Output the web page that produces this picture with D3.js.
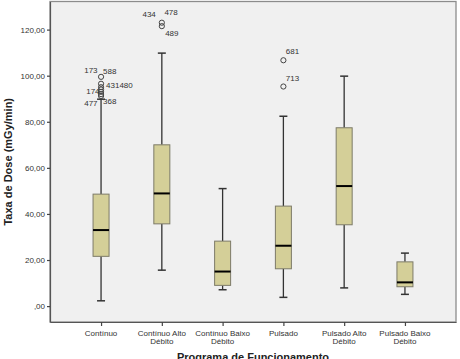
<!DOCTYPE html>
<html><head><meta charset="utf-8">
<script src="https://cdn.jsdelivr.net/npm/d3@7"></script>
<style>html,body{margin:0;padding:0;background:#fff;}svg{display:block;font-family:"Liberation Sans",Arial,sans-serif;}</style>
</head><body>
<svg id="c" width="460" height="359"></svg>
<script>
// ---- data ----
const categories = ["Contínuo","Contínuo Alto Débito","Contínuo Baixo Débito","Pulsado","Pulsado Alto Débito","Pulsado Baixo Débito"];
const categoryLines = [["Contínuo"],["Contínuo Alto","Débito"],["Contínuo Baixo","Débito"],["Pulsado"],["Pulsado Alto","Débito"],["Pulsado Baixo","Débito"]];
const whiskerLow  = [2.3, 15.6, 7.1, 3.8, 7.9, 5.1];
const q1          = [21.6, 35.7, 9.0, 16.2, 35.3, 8.4];
const median      = [33.0, 48.9, 15.0, 26.2, 52.1, 10.3];
const q3          = [48.6, 70.0, 28.2, 43.4, 77.4, 19.2];
const whiskerHigh = [89.8, 109.8, 51.0, 82.4, 99.8, 23.0];
const outlierCat   = [0, 0, 0, 0, 0, 0, 0, 1, 1, 3, 3];
const outlierValue = [99.5, 96.5, 95.0, 94.0, 93.0, 92.0, 91.2, 123.0, 121.5, 106.7, 95.3];
const labelText  = ["173","588","431480","174","477","368","434","478","489","681","713"];
const labelOf    = [0, 0, 1, 4, 6, 6, 7, 7, 8, 9, 10]; // index of outlier each label belongs to
const yTicks = [0, 20, 40, 60, 80, 100, 120];
const yTitle = "Taxa de Dose (mGy/min)";
const xTitle = "Programa de Funcionamento";

// ---- layout ----
const L = 50, R = 456, T = 1.5, B = 322;
const svg = d3.select("#c");
const x = d3.scalePoint().domain(categories).range([L, R]).padding(0.84);
const y = d3.scaleLinear().domain([-6.9, 132.2]).range([B, T]);

svg.append("rect").attr("x", L).attr("y", T).attr("width", R - L).attr("height", B - T)
  .attr("fill", "#f0f0f0").attr("stroke", "#8c8c8c").attr("stroke-width", 1.3);

// axes
const fmt = d => d === 0 ? ",00" : d.toFixed(2).replace(".", ",");
const ya = svg.append("g").attr("transform", `translate(${L},0)`)
  .call(d3.axisLeft(y).tickValues(yTicks).tickFormat(fmt).tickSize(3).tickSizeOuter(0).tickPadding(2));
ya.select(".domain").attr("stroke", "#555").attr("stroke-width", 1.2);
ya.selectAll(".tick line").attr("stroke", "#444").attr("stroke-width", 1.2);
ya.selectAll(".tick text").attr("font-size", 8).attr("fill", "#333").attr("font-family", "Liberation Sans, Arial, sans-serif");

const xa = svg.append("g").attr("transform", `translate(0,${B})`)
  .call(d3.axisBottom(x).tickSize(4).tickSizeOuter(0).tickFormat(""));
xa.select(".domain").attr("stroke", "#555").attr("stroke-width", 1.2);
xa.selectAll(".tick line").attr("stroke", "#444").attr("stroke-width", 1.2);

categories.forEach((c, i) => {
  const t = svg.append("text").attr("x", x(c)).attr("y", 336).attr("text-anchor", "middle")
    .attr("font-size", 8).attr("fill", "#333");
  categoryLines[i].forEach((ln, j) => {
    t.append("tspan").attr("x", x(c)).attr("y", 336 + j * 7.5).text(ln);
  });
});

// boxes
const bw = 16, cw = 8;
categories.forEach((c, i) => {
  const cx = x(c);
  const g = svg.append("g");
  g.append("line").attr("x1", cx).attr("x2", cx).attr("y1", y(whiskerHigh[i])).attr("y2", y(q3[i]))
    .attr("stroke", "#333").attr("stroke-width", 1.3);
  g.append("line").attr("x1", cx).attr("x2", cx).attr("y1", y(q1[i])).attr("y2", y(whiskerLow[i]))
    .attr("stroke", "#333").attr("stroke-width", 1.3);
  [whiskerHigh[i], whiskerLow[i]].forEach(v => {
    g.append("line").attr("x1", cx - cw / 2).attr("x2", cx + cw / 2).attr("y1", y(v)).attr("y2", y(v))
      .attr("stroke", "#333").attr("stroke-width", 1.5);
  });
  g.append("rect").attr("x", cx - bw / 2).attr("y", y(q3[i])).attr("width", bw).attr("height", y(q1[i]) - y(q3[i]))
    .attr("fill", "#d4cf98").attr("stroke", "#7d7b68").attr("stroke-width", 1);
  g.append("line").attr("x1", cx - bw / 2).attr("x2", cx + bw / 2).attr("y1", y(median[i])).attr("y2", y(median[i]))
    .attr("stroke", "#000").attr("stroke-width", 2);
});

// outliers
outlierValue.forEach((v, k) => {
  svg.append("circle").attr("cx", x(categories[outlierCat[k]])).attr("cy", y(v)).attr("r", 2.6)
    .attr("fill", "none").attr("stroke", "#444").attr("stroke-width", 1);
});
const labelOffset = {
  "173": [-3.5, -3.5, "end"], "588": [2, -3, "start"], "431480": [5, 3.8, "start"],
  "174": [-1.5, 2, "end"], "477": [-3.5, 10, "end"], "368": [2, 8.5, "start"],
  "434": [-6, -5.5, "end"], "478": [2.6, -7.5, "start"], "489": [3.3, 9.7, "start"],
  "681": [2.4, -6.7, "start"], "713": [2.4, -6, "start"]
};
labelText.forEach((t, k) => {
  const o = labelOf[k];
  const off = labelOffset[t];
  svg.append("text").attr("x", x(categories[outlierCat[o]]) + off[0]).attr("y", y(outlierValue[o]) + off[1])
    .attr("text-anchor", off[2]).attr("font-size", 8).attr("fill", "#333").text(t);
});

// titles
svg.append("text").attr("transform", `translate(12,${(T + B) / 2}) rotate(-90)`).attr("text-anchor", "middle")
  .attr("font-size", 11).attr("font-weight", "bold").attr("fill", "#222").text(yTitle);
svg.append("text").attr("x", (L + R) / 2).attr("y", 360.5).attr("text-anchor", "middle")
  .attr("font-size", 11).attr("font-weight", "bold").attr("fill", "#222").text(xTitle);
</script>
</body></html>
